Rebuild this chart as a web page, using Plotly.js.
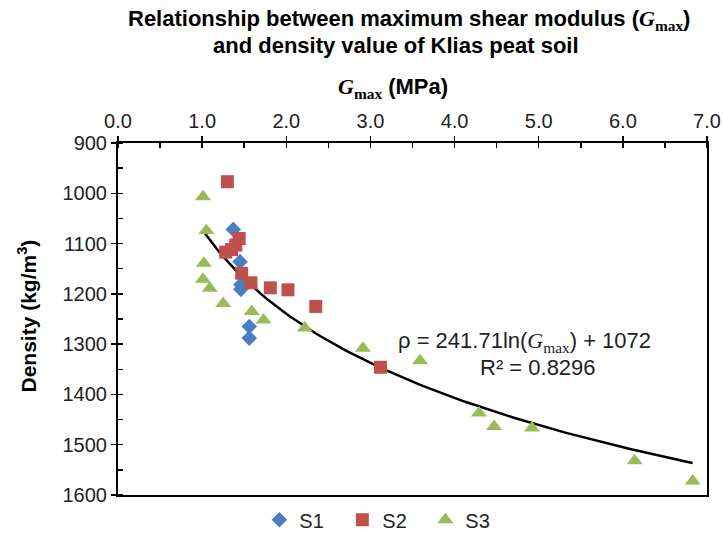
<!DOCTYPE html>
<html>
<head>
<meta charset="utf-8">
<script src="https://cdn.plot.ly/plotly-3.0.1.min.js"></script>
<style>html,body{margin:0;padding:0;background:#fff;}#chart{width:723px;height:533px;}</style>
</head>
<body>
<div id="chart"></div>
<script>
// S1 data (Gmax in MPa, density in kg/m3)
const s1Gmax = [1.37, 1.45, 1.46, 1.46, 1.56, 1.56];
const s1Density = [1072, 1136, 1182, 1191, 1265, 1288];
// S2 data
const s2Gmax = [1.30, 1.44, 1.40, 1.35, 1.28, 1.47, 1.58, 1.81, 2.02, 2.35, 3.12];
const s2Density = [977, 1090, 1103, 1112, 1117, 1159, 1178, 1188, 1192, 1225, 1346];
// S3 data
const s3Gmax = [1.01, 1.05, 1.02, 1.01, 1.09, 1.25, 1.59, 1.73, 2.22, 2.91, 3.59, 4.29, 4.47, 4.92, 6.14, 6.83];
const s3Density = [1007, 1074, 1139, 1171, 1189, 1219, 1235, 1252, 1268, 1308, 1333, 1437, 1464, 1467, 1532, 1572];
// Logarithmic trendline from the printed equation
const trendA = 241.71, trendB = 1072;
const trendRange = [1.01, 6.83];
const xTicks = [0, 1, 2, 3, 4, 5, 6, 7];
const yTicks = [900, 1000, 1100, 1200, 1300, 1400, 1500, 1600];

const trendX = [], trendY = [];
for (let i = 0; i <= 100; i++) {
  const x = trendRange[0] + (trendRange[1] - trendRange[0]) * i / 100;
  trendX.push(x);
  trendY.push(trendA * Math.log(x) + trendB);
}

const G = "<span style=\"font-family:'Liberation Serif'\"><i>G</i><sub>max</sub></span>";
const font = "Liberation Sans, Arial, sans-serif";

const traces = [
  {x: trendX, y: trendY, mode: 'lines', line: {color: '#000', width: 2.5}, showlegend: false, hoverinfo: 'skip'},
  {x: s1Gmax, y: s1Density, mode: 'markers', name: 'S1', marker: {symbol: 'diamond', size: 12, color: '#4A7EC2'}},
  {x: s2Gmax, y: s2Density, mode: 'markers', name: 'S2', marker: {symbol: 'square', size: 13, color: '#C0504D'}},
  {x: s3Gmax, y: s3Density, mode: 'markers', name: 'S3', marker: {symbol: 'triangle-up', size: 14, color: '#9BBB59'}}
];

const layout = {
  width: 723, height: 533,
  margin: {l: 118, r: 16, t: 143, b: 38, autoexpand: false},
  paper_bgcolor: '#fff', plot_bgcolor: '#fff',
  font: {family: font, color: '#000', size: 20},
  xaxis: {
    side: 'top', range: [0, 7], tickvals: xTicks, ticktext: xTicks.map(v => v.toFixed(1)),
    showgrid: false, zeroline: false, showline: true, linecolor: '#000', linewidth: 2, mirror: true,
    ticks: 'outside', ticklen: 5, tickwidth: 1.5, tickcolor: '#000',
    minor: {dtick: 0.5, ticks: 'inside', ticklen: 5, tickwidth: 1.5, tickcolor: '#000', showgrid: false},
    tickfont: {size: 20, color: '#222'}, automargin: false
  },
  yaxis: {
    range: [1600, 900], tickvals: yTicks,
    showgrid: false, zeroline: false, showline: true, linecolor: '#000', linewidth: 2, mirror: true,
    ticks: 'outside', ticklen: 5, tickwidth: 1.5, tickcolor: '#000',
    minor: {dtick: 50, ticks: 'inside', ticklen: 5, tickwidth: 1.5, tickcolor: '#000', showgrid: false},
    tickfont: {size: 20, color: '#222'}, automargin: false
  },
  legend: {
    orientation: 'h', x: 0.24, xanchor: 'left', y: -0.015, yanchor: 'top',
    font: {size: 20, color: '#222'}, entrywidth: 38, entrywidthmode: 'pixels', tracegroupgap: 0
  },
  annotations: [
    {xref: 'paper', yref: 'paper', x: 0.494, y: 1.349, xanchor: 'center', yanchor: 'middle', text: '<b>Relationship between maximum shear modulus (' + G + ')</b>', showarrow: false, font: {size: 22}},
    {xref: 'paper', yref: 'paper', x: 0.472, y: 1.278, xanchor: 'center', yanchor: 'middle', text: '<b>and density value of Klias peat soil</b>', showarrow: false, font: {size: 22}},
    {xref: 'paper', yref: 'paper', x: 0.467, y: 1.156, xanchor: 'center', yanchor: 'middle', text: '<b>' + G + ' (MPa)</b>', showarrow: false, font: {size: 22}},
    {xref: 'paper', yref: 'paper', x: -0.155, y: 0.509, xanchor: 'center', yanchor: 'middle', text: '<b>Density (kg/m<sup>3</sup>)</b>', textangle: -90, showarrow: false, font: {size: 21}},
    {x: 4.83, y: 1296, xref: 'x', yref: 'y', text: 'ρ = 241.71ln(' + G + ') + 1072', showarrow: false, font: {size: 22, color: '#222'}},
    {x: 4.99, y: 1347, xref: 'x', yref: 'y', text: 'R² = 0.8296', showarrow: false, font: {size: 22, color: '#222'}}
  ]
};

Plotly.newPlot('chart', traces, layout, {displayModeBar: false, staticPlot: true});
</script>
</body>
</html>
